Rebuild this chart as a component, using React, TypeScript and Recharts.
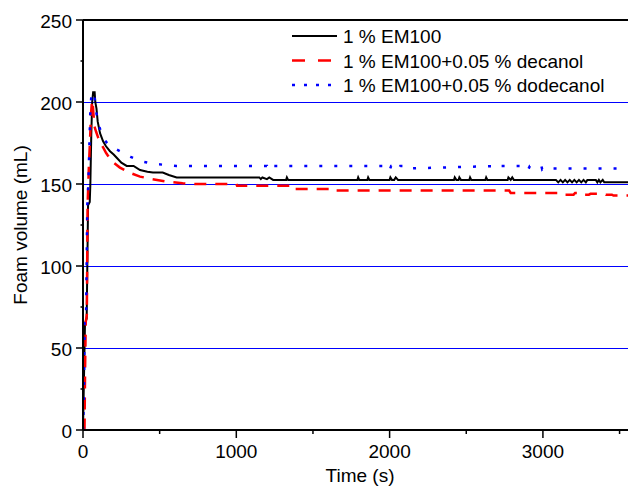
import React from "react";
import { LineChart, Line, XAxis, YAxis, ReferenceLine } from "recharts";

const FONT = '"Liberation Sans", Arial, Helvetica, sans-serif';

// axis ticks (minor ones get no label)
const yTicks = [0, 25, 50, 75, 100, 125, 150, 175, 200, 225, 250];
const xTicks = [0, 500, 1000, 1500, 2000, 2500, 3000, 3500];
const gridValues = [50, 100, 150, 200];

// 1 % EM100
const em100Time = [
  0, 8, 13, 24, 33, 44, 48, 54, 60, 66, 76, 80, 88, 96, 111, 131, 150, 176, 200,
  220, 250, 285, 330, 372, 420, 456, 520, 560, 611, 1150, 1160, 1170, 1200,
  1215, 1240, 1325, 1330, 1338, 1790, 1795, 1802, 1855, 1860, 1868, 2000, 2005,
  2015, 2030, 2040, 2055, 2420, 2425, 2435, 2450, 2455, 2465, 2520, 2525, 2533,
  2625, 2630, 2638, 2770, 2775, 2790, 2800, 2810, 3085, 3100, 3115, 3130, 3145,
  3160, 3175, 3190, 3205, 3220, 3235, 3250, 3265, 3280, 3290, 3345, 3355, 3365,
  3375, 3390, 3400, 3555,
];
const em100Vol = [
  0, 40, 65, 68, 137, 139, 150, 180, 200, 206, 206, 200, 196, 188, 181, 176,
  173, 170, 168, 166, 163, 161, 161, 158.5, 157.5, 157, 157, 155.5, 154, 154,
  153, 154, 153, 154, 152.5, 152.5, 154, 152.5, 152.5, 154, 152.5, 152.5, 154,
  152.5, 152.5, 154, 152.5, 152.5, 154, 152.5, 152.5, 154, 152.5, 152.5, 154,
  152.5, 152.5, 154, 152.5, 152.5, 154, 152.5, 152.5, 154, 152.5, 154, 152.5,
  152.5, 151, 152.5, 151, 152.5, 151, 152.5, 151, 152.5, 151, 152.5, 151, 152.5,
  151, 152.5, 152.5, 151, 152.5, 151, 152.5, 151, 151,
];

// 1 % EM100 + 0.05 % decanol
const decanolTime = [
  0, 10, 14, 18, 25, 30, 38, 45, 52, 58, 62, 68, 75, 85, 100, 115, 133, 150, 165,
  200, 241, 300, 372, 450, 546, 650, 718, 1000, 1005, 1370, 1375, 1620, 1625,
  2780, 2790, 3100, 3110, 3200, 3210, 3260, 3270, 3300, 3310, 3400, 3410, 3450,
  3460, 3555,
];
const decanolVol = [
  0, 1, 40, 66, 70, 137, 160, 175, 192, 200, 201, 193, 185, 182, 178, 175, 172,
  169, 167, 163, 160, 157, 154.5, 153, 151.5, 150.5, 150, 150, 149, 149, 147,
  147, 146, 146, 144.5, 144.5, 143.5, 143.5, 144.5, 144.5, 143.5, 143.5, 144,
  144, 143.5, 143.5, 143, 143,
];

// 1 % EM100 + 0.05 % dodecanol
const dodecanolTime = [
  0, 6, 10, 20, 28, 35, 42, 48, 54, 60, 66, 74, 80, 88, 96, 120, 140, 165, 200,
  241, 280, 311, 372, 458, 611, 1200, 1205, 1215, 1990, 2000, 2010, 2050, 2060,
  2070, 2120, 2130, 2700, 2710, 2720, 2900, 2905, 2915, 2990, 2995, 3005, 3050,
  3555,
];
const dodecanolVol = [
  0, 20, 65, 68, 137, 150, 175, 195, 203, 205, 205, 206, 198, 193, 188, 181, 177,
  174, 172, 170, 168, 166.5, 164, 162.3, 161, 161, 159, 161, 161, 158.5, 161,
  161, 159, 161, 161, 159.5, 161, 160, 161, 161, 159, 161, 161, 159, 160, 159.5,
  159.5,
];

const toPoints = (t: number[], v: number[]) =>
  t.map((time, i) => ({ time, vol: v[i] }));

const series = [
  {
    name: "1 % EM100",
    color: "#000000",
    width: 2,
    dash: undefined as string | undefined,
    legendDash: undefined as string | undefined,
    data: toPoints(em100Time, em100Vol),
  },
  {
    name: "1 % EM100+0.05 % decanol",
    color: "#ff0000",
    width: 2.5,
    dash: "12 9",
    legendDash: "13 13",
    data: toPoints(decanolTime, decanolVol),
  },
  {
    name: "1 % EM100+0.05 % dodecanol",
    color: "#0000ff",
    width: 2.5,
    dash: "3 12",
    legendDash: "3 9",
    data: toPoints(dodecanolTime, dodecanolVol),
  },
];

const renderYTick = (props: any) => {
  const { x, y, payload } = props;
  const major = payload.value % 50 === 0;
  return (
    <g>
      <line x1={x - (major ? 7 : 2.5)} x2={x} y1={y} y2={y} stroke="#000" strokeWidth={1.5} />
      {major && (
        <text x={x - 11} y={y + 8} textAnchor="end" fontSize={19} fontFamily={FONT} fill="#000">
          {payload.value}
        </text>
      )}
    </g>
  );
};

const renderXTick = (props: any) => {
  const { x, y, payload } = props;
  const major = payload.value % 1000 === 0;
  return (
    <g>
      <line x1={x} x2={x} y1={y} y2={y + (major ? 8 : 4)} stroke="#000" strokeWidth={1.5} />
      {major && (
        <text x={x} y={y + 28} textAnchor="middle" fontSize={19} fontFamily={FONT} fill="#000">
          {payload.value}
        </text>
      )}
    </g>
  );
};

export default function App() {
  return (
    <div style={{ position: "absolute", left: 0, top: 0, width: 628, height: 488, background: "#fff" }}>
      <LineChart width={628} height={488} margin={{ top: 20, right: 0, bottom: 0, left: 0 }}>
        <XAxis
          dataKey="time"
          type="number"
          domain={[0, 3555]}
          allowDataOverflow
          ticks={xTicks}
          interval={0}
          height={58}
          tickSize={0}
          tickMargin={0}
          tickLine={false}
          axisLine={{ stroke: "#000", strokeWidth: 2 }}
          tick={renderXTick}
        />
        <YAxis
          type="number"
          domain={[0, 250]}
          ticks={yTicks}
          interval={0}
          width={83}
          tickSize={0}
          tickMargin={0}
          tickLine={false}
          axisLine={{ stroke: "#000", strokeWidth: 2 }}
          tick={renderYTick}
        />
        {gridValues.map((v) => (
          <ReferenceLine
            key={v}
            y={v}
            stroke="#0000ff"
            strokeWidth={1}
            strokeOpacity={1}
            shapeRendering="crispEdges"
          />
        ))}
        <ReferenceLine y={250} stroke="#000" strokeWidth={2} strokeOpacity={1} />
        {series.map((s) => (
          <Line
            key={s.name}
            data={s.data}
            dataKey="vol"
            name={s.name}
            type="linear"
            stroke={s.color}
            strokeWidth={s.width}
            strokeDasharray={s.dash}
            dot={false}
            activeDot={false}
            isAnimationActive={false}
          />
        ))}
      </LineChart>
      <svg
        width={628}
        height={488}
        style={{ position: "absolute", left: 0, top: 0, pointerEvents: "none" }}
      >
        {series.map((s, i) => {
          const cy = 36 + i * 24.5;
          return (
            <g key={s.name}>
              <line
                x1={292}
                x2={337}
                y1={cy}
                y2={cy}
                stroke={s.color}
                strokeWidth={s.width}
                strokeDasharray={s.legendDash}
              />
              <text x={343} y={cy + 7} fontSize={19} fontFamily={FONT} fill="#000">
                {s.name}
              </text>
            </g>
          );
        })}
        <text x={360} y={482} textAnchor="middle" fontSize={19} fontFamily={FONT} fill="#000">
          Time (s)
        </text>
        <text
          transform="translate(27, 225) rotate(-90)"
          textAnchor="middle"
          fontSize={19}
          fontFamily={FONT}
          fill="#000"
        >
          Foam volume (mL)
        </text>
      </svg>
    </div>
  );
}
